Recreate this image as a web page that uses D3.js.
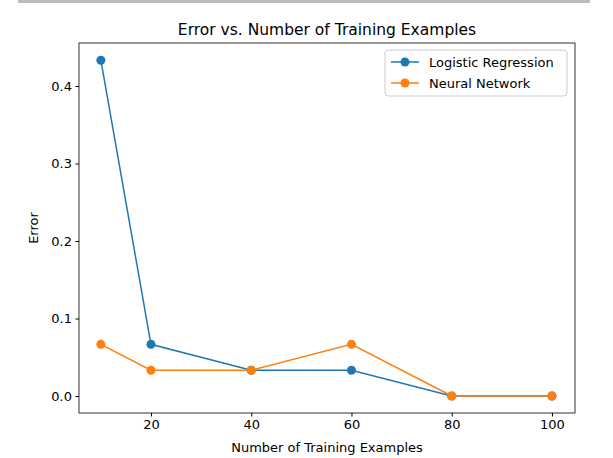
<!DOCTYPE html>
<html><head><meta charset="utf-8">
<script src="https://cdn.jsdelivr.net/npm/d3@7"></script>
<style>body{margin:0;background:#fff}text{font-family:"DejaVu Sans",sans-serif}</style>
</head><body>
<svg id="chart" width="613" height="458"></svg>
<script>
var examples = [10, 20, 40, 60, 80, 100];
var logistic = [0.4333, 0.0667, 0.0333, 0.0333, 0, 0];
var neural = [0.0667, 0.0333, 0.0333, 0.0667, 0, 0];
var xTicks = [20, 40, 60, 80, 100];
var yTicks = [0, 0.1, 0.2, 0.3, 0.4];

var svg = d3.select('#chart');
var L = 79, R = 575, T = 43, B = 413;
var x = d3.scaleLinear().domain([5.64, 104.6]).range([L, R]);
var y = d3.scaleLinear().domain([-0.0219, 0.4555]).range([B, T]);

svg.append('rect').attr('x', 18).attr('y', 0).attr('width', 572).attr('height', 3).attr('fill', '#bbb');

svg.append('g').attr('transform', 'translate(0,' + B + ')')
  .call(d3.axisBottom(x).tickValues(xTicks).tickSize(3.5).tickPadding(3.5).tickFormat(d3.format('d')))
  .call(g => g.select('.domain').remove());
svg.append('g').attr('transform', 'translate(' + L + ',0)')
  .call(d3.axisLeft(y).tickValues(yTicks).tickSize(3.5).tickPadding(3.5).tickFormat(d3.format('.1f')))
  .call(g => g.select('.domain').remove());
svg.selectAll('.tick text').attr('font-size', 13).attr('fill', '#000');
svg.selectAll('.tick line').attr('stroke', '#000');

svg.append('rect').attr('x', L).attr('y', T).attr('width', R - L).attr('height', B - T)
  .attr('fill', 'none').attr('stroke', '#000').attr('stroke-width', 0.8);

var series = [{name: 'Logistic Regression', vals: logistic, color: '#1f77b4'},
              {name: 'Neural Network', vals: neural, color: '#ff7f0e'}];
var line = d3.line().x((d, i) => x(examples[i])).y(d => y(d));
series.forEach(function(s){
  svg.append('path').attr('d', line(s.vals)).attr('fill', 'none').attr('stroke', s.color).attr('stroke-width', 1.5);
  svg.selectAll(null).data(s.vals).enter().append('circle')
    .attr('cx', (d, i) => x(examples[i])).attr('cy', d => y(d)).attr('r', 4.5).attr('fill', s.color);
});

svg.append('text').attr('x', (L + R) / 2).attr('y', 35).attr('text-anchor', 'middle').attr('font-size', 15.5).text('Error vs. Number of Training Examples');
svg.append('text').attr('x', (L + R) / 2).attr('y', 452).attr('text-anchor', 'middle').attr('font-size', 13).text('Number of Training Examples');
svg.append('text').attr('transform', 'translate(38,' + (T + B) / 2 + ') rotate(-90)').attr('text-anchor', 'middle').attr('font-size', 13).text('Error');

var lg = svg.append('g').attr('transform', 'translate(385,50)');
lg.append('rect').attr('width', 182).attr('height', 46).attr('rx', 3).attr('fill', '#fff').attr('stroke', '#ccc');
series.forEach(function(s, i){
  var yy = 12 + i * 21;
  lg.append('line').attr('x1', 6).attr('x2', 34).attr('y1', yy).attr('y2', yy).attr('stroke', s.color).attr('stroke-width', 1.5);
  lg.append('circle').attr('cx', 20).attr('cy', yy).attr('r', 4.5).attr('fill', s.color);
  lg.append('text').attr('x', 44).attr('y', yy + 4.5).attr('font-size', 13).text(s.name);
});
</script>
</body></html>
